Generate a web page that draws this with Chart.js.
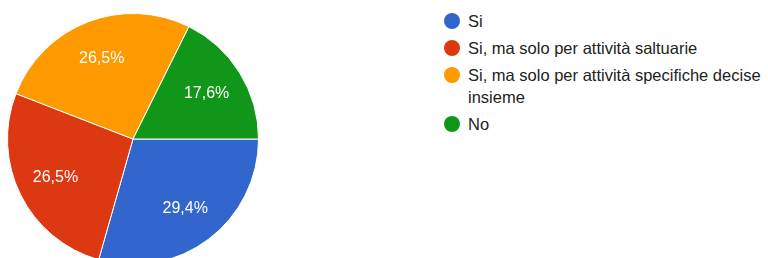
<!DOCTYPE html>
<html>
<head>
<meta charset="utf-8">
<script src="https://cdn.jsdelivr.net/npm/chart.js@4/dist/chart.umd.min.js"></script>
<style>
  html, body { margin: 0; padding: 0; width: 768px; height: 258px; overflow: hidden; background: #fff; }
  #pieWrap { position: absolute; left: 7px; top: 13px; width: 252px; height: 252px; }
  #legend { position: absolute; left: 444px; top: 10px; width: 322px; font-family: Arial, "Liberation Sans", sans-serif; font-size: 16.5px; color: #222; }
  .item { position: relative; padding-left: 24px; line-height: 22px; margin-bottom: 5px; }
  .dot { position: absolute; left: 0; top: 3px; width: 16px; height: 16px; border-radius: 50%; }
</style>
</head>
<body>
<div id="pieWrap"><canvas id="c"></canvas></div>
<div id="legend"></div>
<script>
const categories = ["Si", "Si, ma solo per attività saltuarie", "Si, ma solo per attività specifiche decise insieme", "No"];
const counts = [10, 9, 9, 6];
const percentLabels = ["29,4%", "26,5%", "26,5%", "17,6%"];
const colors = ["#3366cc", "#dc3912", "#ff9900", "#109618"];

const legendEl = document.getElementById('legend');
categories.forEach((cat, i) => {
  const it = document.createElement('div');
  it.className = 'item';
  const d = document.createElement('span');
  d.className = 'dot';
  d.style.background = colors[i];
  it.appendChild(d);
  it.appendChild(document.createTextNode(cat));
  legendEl.appendChild(it);
});

const pctPlugin = {
  id: 'pct',
  afterDatasetsDraw(chart) {
    const ctx = chart.ctx;
    const meta = chart.getDatasetMeta(0);
    ctx.save();
    ctx.fillStyle = '#ffffff';
    ctx.font = '16px Arial, "Liberation Sans", sans-serif';
    ctx.textAlign = 'center';
    ctx.textBaseline = 'middle';
    meta.data.forEach((arc, i) => {
      const p = arc.getProps(['x', 'y', 'startAngle', 'endAngle', 'outerRadius'], true);
      const mid = (p.startAngle + p.endAngle) / 2;
      const r = p.outerRadius * 0.69;
      ctx.fillText(percentLabels[i], p.x + Math.cos(mid) * r, p.y + Math.sin(mid) * r);
    });
    ctx.restore();
  }
};

new Chart(document.getElementById('c'), {
  type: 'pie',
  data: {
    labels: categories,
    datasets: [{
      data: counts,
      backgroundColor: colors,
      borderColor: '#ffffff',
      borderWidth: 1
    }]
  },
  options: {
    responsive: true,
    maintainAspectRatio: false,
    animation: false,
    rotation: 90,
    layout: { padding: 0 },
    plugins: { legend: { display: false }, tooltip: { enabled: false } }
  },
  plugins: [pctPlugin]
});
</script>
</body>
</html>
